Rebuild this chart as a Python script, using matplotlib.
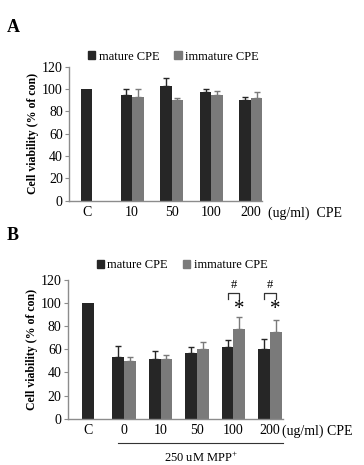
import numpy as np
import matplotlib
matplotlib.use("Agg")
import matplotlib.pyplot as plt
from matplotlib.patches import Patch

plt.rcParams['font.family'] = ['Liberation Serif', 'DejaVu Serif']
plt.rcParams['mathtext.fontset'] = 'custom'
plt.rcParams['mathtext.rm'] = 'Liberation Serif'

# ---- data ----
labels_A = ["C", "10", "50", "100", "200"]
mature_A = [100, 95, 103, 97, 90]
mature_A_err = [0, 5, 7, 3, 3]
immature_A = [np.nan, 93, 90, 95, 92]
immature_A_err = [0, 7, 2, 3, 5]

labels_B = ["C", "0", "10", "50", "100", "200"]
mature_B = [100, 53, 52, 57, 62, 60]
mature_B_err = [0, 10, 7, 5, 6, 9]
immature_B = [np.nan, 50, 52, 60, 78, 75]
immature_B_err = [0, 3, 3, 6, 10, 10]
sig_groups_B = ["100", "200"]

C_DARK = "#262626"
C_GRAY = "#7a7a7a"
SPINE = "#8c8c8c"
TICK_PAD = 4

fig = plt.figure(figsize=(3.64, 4.65), dpi=100)
W, H = 364, 465

def axes_px(l, r, top, bot):
    return fig.add_axes([l / W, 1 - bot / H, (r - l) / W, (bot - top) / H])

def style(ax):
    for s in ["top", "right"]:
        ax.spines[s].set_visible(False)
    for s in ["left", "bottom"]:
        ax.spines[s].set_color(SPINE)
        ax.spines[s].set_linewidth(1.0)
    ax.set_ylim(0, 120)
    ax.set_yticks(range(0, 121, 20))
    ax.tick_params(axis='y', length=3, color=SPINE, labelsize=10, pad=1.5)
    ax.tick_params(axis='x', length=0, labelsize=10, pad=TICK_PAD)
    ax.set_ylabel("Cell viability (% of con)", fontsize=8.5, fontweight='bold', labelpad=2)

def draw(ax, labels, mature, mature_err, immature, immature_err, c_offset, w):
    n = len(labels)
    x = np.arange(n, dtype=float)
    xm = x - w / 2
    xi = x + w / 2
    xm[0] = x[0] + c_offset
    ax.bar(xm, mature, width=w, color=C_DARK, zorder=2)
    ax.bar(xi[1:], immature[1:], width=w, color=C_GRAY, zorder=2)
    m = np.array(mature, float); me = np.array(mature_err, float)
    ax.errorbar(xm[1:], m[1:], yerr=[np.zeros(n - 1), me[1:]], fmt='none',
                ecolor=C_DARK, elinewidth=1.0, capsize=2.5, capthick=1.0, zorder=3)
    im = np.array(immature, float); ie = np.array(immature_err, float)
    ax.errorbar(xi[1:], im[1:], yerr=[np.zeros(n - 1), ie[1:]], fmt='none',
                ecolor=C_GRAY, elinewidth=1.0, capsize=2.5, capthick=1.0, zorder=3)
    ticks = x.copy(); ticks[0] = xm[0]
    ax.set_xticks(ticks)
    ax.set_xticklabels(labels)
    return x, xm, xi

def legend(ax, xa, ya):
    handles = [Patch(color=C_DARK, label="mature CPE"), Patch(color=C_GRAY, label="immature CPE")]
    ax.legend(handles=handles, loc='center', bbox_to_anchor=(xa, ya), ncol=2,
              frameon=False, fontsize=9, handlelength=0.6, handleheight=0.6,
              handletextpad=0.25, columnspacing=1.2, borderaxespad=0, borderpad=0)

def unit_label(ax, xfrac, text):
    ax.annotate(text, xy=(xfrac, 0), xycoords='axes fraction',
                xytext=(0, -TICK_PAD), textcoords='offset points',
                ha='left', va='top', fontsize=10)

# ---- panel A ----
wA = 0.29
axA = axes_px(69, 262, 66.7, 200.7)
style(axA)
draw(axA, labels_A, mature_A, mature_A_err, immature_A, immature_A_err, -wA / 2, wA)
axA.set_xlim(-0.59, 4.28)
legend(axA, 0.54, 1.075)
unit_label(axA, 1.03, "(ug/ml)  CPE")
fig.text(7 / W, 1 - 32 / H, "A", fontsize=13, fontweight='bold', ha='left', va='baseline')

# ---- panel B ----
wB = 0.32
axB = axes_px(68, 283, 280, 418.7)
style(axB)
x, xm, xi = draw(axB, labels_B, mature_B, mature_B_err, immature_B, immature_B_err, 0.0, wB)
axB.set_xlim(-0.54, 5.36)
legend(axB, 0.53, 1.108)
unit_label(axB, 0.995, "(ug/ml) CPE")
fig.text(7 / W, 1 - 240 / H, "B", fontsize=13, fontweight='bold', ha='left', va='baseline')

for g in sig_groups_B:
    k = labels_B.index(g)
    axB.plot([xm[k], xm[k], xi[k], xi[k]], [103.5, 108.5, 108.5, 103.5], color='#333333', lw=0.9, clip_on=False)
    axB.text(x[k], 115.5, "#", ha='center', va='center', fontsize=9)
    axB.text(xi[k], 86, "*", ha='center', va='bottom', fontsize=15)

trans = axB.get_xaxis_transform()
axB.plot([0.84, 5.36], [-0.173, -0.173], color='#333333', lw=0.8, transform=trans, clip_on=False)
axB.text(3.1, -0.278, "250 uM MPP$^{+}$", transform=trans, ha='center', va='center', fontsize=9)

fig.savefig("out.png", dpi=100)
